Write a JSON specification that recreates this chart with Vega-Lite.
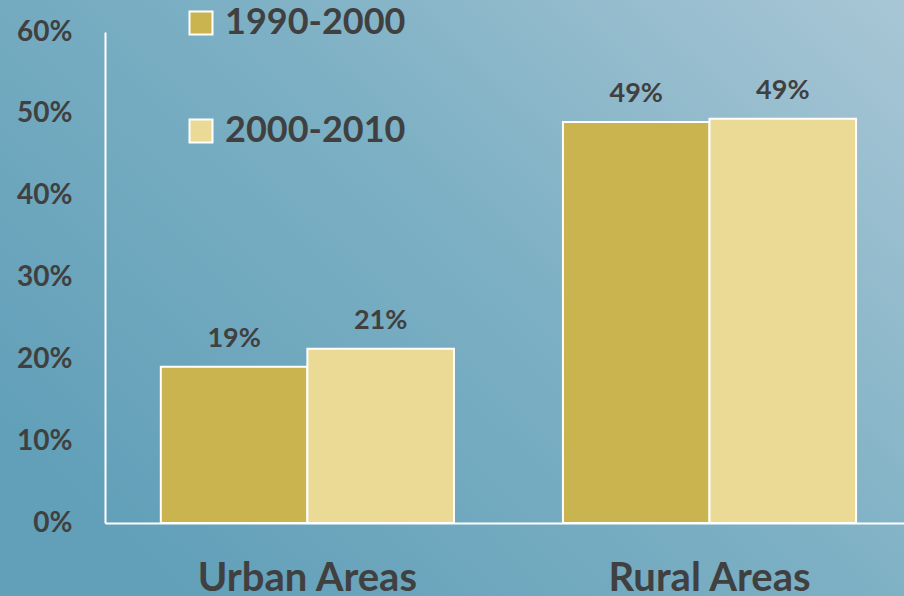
{
  "$schema": "https://vega.github.io/schema/vega-lite/v6.json",
  "width": 904,
  "height": 596,
  "autosize": {"type": "none"},
  "padding": 0,
  "background": "#78acc2",
  "config": {
    "view": {
      "stroke": null,
      "fill": {
        "gradient": "linear",
        "x1": 0, "y1": 0.7, "x2": 1, "y2": 0,
        "stops": [
          {"offset": 0, "color": "#62a0b9"},
          {"offset": 0.5, "color": "#7db0c4"},
          {"offset": 1, "color": "#a8c6d5"}
        ]
      }
    },
    "font": "Lato",
    "text": {"font": "Lato"}
  },
  "data": {
    "values": [
      {"area": "Urban Areas", "period": "1990-2000", "share": 0.191},
      {"area": "Urban Areas", "period": "2000-2010", "share": 0.213},
      {"area": "Rural Areas", "period": "1990-2000", "share": 0.490},
      {"area": "Rural Areas", "period": "2000-2010", "share": 0.494}
    ]
  },
  "encoding": {
    "x": {
      "field": "area", "type": "nominal", "sort": ["Urban Areas", "Rural Areas"],
      "scale": {"range": [105, 904], "paddingInner": 0.271, "paddingOuter": 0.129, "align": 0.538},
      "axis": {
        "title": null, "orient": "bottom", "offset": -73, "labelAngle": 0,
        "domainColor": "white", "domainWidth": 2, "ticks": false,
        "labelFont": "Lato", "labelFontWeight": "bold", "labelFontSize": 40,
        "labelColor": "#404040", "labelPadding": 35, "labelLimit": 0
      }
    },
    "xOffset": {"field": "period", "type": "nominal", "scale": {"paddingInner": 0, "paddingOuter": 0}},
    "y": {
      "field": "share", "type": "quantitative",
      "scale": {"domain": [0, 0.6], "range": [523, 32], "nice": false, "zero": true},
      "axis": {
        "title": null, "orient": "left", "offset": -105, "format": ".0%",
        "values": [0, 0.1, 0.2, 0.3, 0.4, 0.5, 0.6],
        "grid": false, "ticks": false, "domainColor": "white", "domainWidth": 2,
        "labelFont": "Lato", "labelFontWeight": "bold", "labelFontSize": 28,
        "labelColor": "#404040", "labelPadding": 33, "labelLimit": 0
      }
    }
  },
  "layer": [
    {
      "mark": {"type": "bar", "stroke": "white", "strokeWidth": 2},
      "encoding": {
        "color": {
          "field": "period", "type": "nominal",
          "scale": {"domain": ["1990-2000", "2000-2010"], "range": ["#c9b44f", "#ebd996"]},
          "legend": {
            "title": null, "orient": "none", "legendX": 183, "legendY": 5,
            "symbolType": "square", "symbolSize": 529, "symbolStrokeColor": "white",
            "symbolStrokeWidth": 2, "symbolOpacity": 1,
            "labelFont": "Lato", "labelFontWeight": "bold", "labelFontSize": 36,
            "labelColor": "#404040", "labelOffset": 6, "rowPadding": 72, "labelLimit": 0
          }
        }
      }
    },
    {
      "mark": {"type": "text", "baseline": "bottom", "dy": -14, "font": "Lato", "fontWeight": "bold", "fontSize": 27, "color": "#404040"},
      "encoding": {
        "text": {"field": "share", "type": "quantitative", "format": ".0%"}
      }
    }
  ]
}
